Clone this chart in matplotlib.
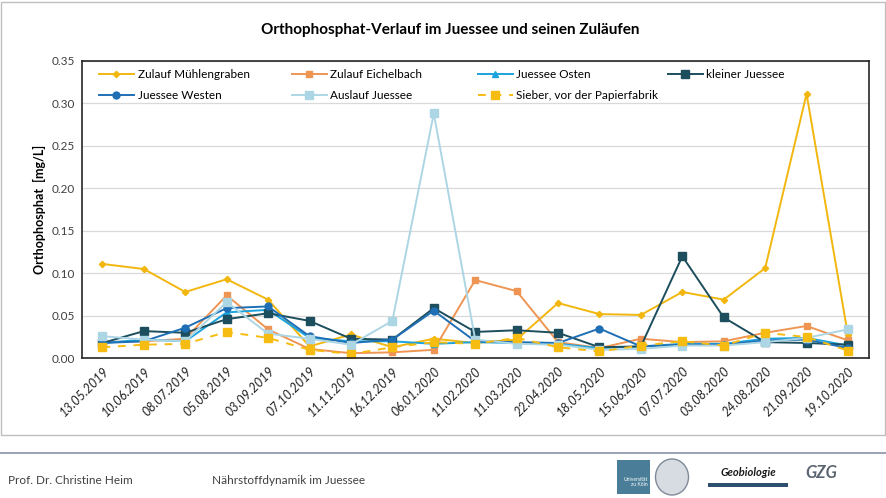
import matplotlib
matplotlib.use("Agg")
import matplotlib.pyplot as plt
from matplotlib.patches import Rectangle, Ellipse
from matplotlib.lines import Line2D
from matplotlib.legend import Legend

plt.rcParams['font.family'] = ['Lato', 'DejaVu Sans']

dates = ["13.05.2019", "10.06.2019", "08.07.2019", "05.08.2019", "03.09.2019",
         "07.10.2019", "11.11.2019", "16.12.2019", "06.01.2020", "11.02.2020",
         "11.03.2020", "22.04.2020", "18.05.2020", "15.06.2020", "07.07.2020",
         "03.08.2020", "24.08.2020", "21.09.2020", "19.10.2020"]

muehlengraben = [0.111, 0.105, 0.078, 0.093, 0.069, 0.014, 0.028, 0.013, 0.023, 0.018,
                 0.022, 0.065, 0.052, 0.051, 0.078, 0.069, 0.106, 0.311, 0.027]
eichelbach = [0.019, 0.020, 0.023, 0.074, 0.034, 0.011, 0.006, 0.007, 0.010, 0.092,
              0.079, 0.019, 0.012, 0.023, 0.019, 0.020, 0.030, 0.038, 0.021]
osten = [0.018, 0.022, 0.020, 0.054, 0.057, 0.024, 0.020, 0.020, 0.017, 0.019,
         0.018, 0.017, 0.012, 0.014, 0.017, 0.017, 0.023, 0.024, 0.015]
kleiner = [0.018, 0.032, 0.030, 0.046, 0.053, 0.044, 0.023, 0.022, 0.059, 0.031,
           0.033, 0.030, 0.013, 0.014, 0.120, 0.048, 0.019, 0.018, 0.016]
westen = [0.018, 0.020, 0.036, 0.059, 0.061, 0.026, 0.018, 0.022, 0.056, 0.020,
          0.019, 0.018, 0.035, 0.014, 0.016, 0.016, 0.021, 0.022, 0.012]
auslauf = [0.026, 0.022, 0.020, 0.066, 0.029, 0.023, 0.016, 0.044, 0.288, 0.022,
           0.017, 0.016, 0.010, 0.011, 0.015, 0.015, 0.019, 0.024, 0.034]
sieber = [0.013, 0.016, 0.017, 0.031, 0.024, 0.010, 0.005, 0.013, 0.019, 0.017,
          0.024, 0.013, 0.008, 0.015, 0.020, 0.015, 0.030, 0.025, 0.009]

series = [
    ("Zulauf Mühlengraben", muehlengraben, "#F2B70F", "D", 3.2, "-"),
    ("Zulauf Eichelbach", eichelbach, "#EE9554", "s", 5, "-"),
    ("Juessee Osten", osten, "#1BA3DE", "^", 4.5, "-"),
    ("kleiner Juessee", kleiner, "#1D4E5E", "s", 6, "-"),
    ("Juessee Westen", westen, "#1F6FB5", "o", 5, "-"),
    ("Auslauf Juessee", auslauf, "#ADD6E4", "s", 6, "-"),
    ("Sieber, vor der Papierfabrik", sieber, "#F7BC12", "s", 6, (0, (4, 4))),
]

W, H = 887, 498
fig = plt.figure(figsize=(W / 100, H / 100), dpi=100)

# outer chart border
fig.add_artist(Rectangle((1 / W, 1 - 435 / H), 884 / W, 433 / H, transform=fig.transFigure,
                         fill=False, edgecolor="#BFBFBF", linewidth=1.0))

ax = fig.add_axes([81.7 / W, 1 - 358.3 / H, 787 / W, 297.6 / H])
x = list(range(len(dates)))
handles = {}
for name, vals, col, mk, ms, ls in series:
    h, = ax.plot(x, vals, color=col, marker=mk, markersize=ms, linewidth=1.4,
                 linestyle=ls, label=name, markeredgecolor=col, markerfacecolor=col)
    handles[name] = h

ax.set_xlim(-0.5, len(dates) - 0.5)
ax.set_ylim(0, 0.35)
yt = [0, 0.05, 0.10, 0.15, 0.20, 0.25, 0.30, 0.35]
ax.set_yticks(yt)
ax.set_yticklabels([f"{v:.2f}" for v in yt], fontsize=8.5, color="#404040")
ax.set_xticks(x)
ax.set_xticklabels(dates, rotation=45, ha="right", rotation_mode="anchor",
                   fontsize=9, style="italic", color="#222222")
ax.tick_params(axis="both", length=0, pad=5)
ax.tick_params(axis="x", pad=5)
ax.grid(axis="y", color="#D9D9D9", linewidth=0.9)
ax.set_axisbelow(True)
for sp in ax.spines.values():
    sp.set_color("#262626")
    sp.set_linewidth(1.2)
ax.set_ylabel("Orthophosphat  [mg/L]", fontsize=9, fontweight="bold", labelpad=4)

# legend: four columns placed like the original
columns = [
    (["Zulauf Mühlengraben", "Juessee Westen"], 95),
    (["Zulauf Eichelbach", "Auslauf Juessee"], 288),
    (["Juessee Osten", "Sieber, vor der Papierfabrik"], 474),
    (["kleiner Juessee"], 664),
]
x0, wax = 81.7, 787.0
for names, px in columns:
    lg = Legend(ax, [handles[n] for n in names], names, loc="upper left",
                bbox_to_anchor=((px - x0) / wax, 0.985), frameon=False, fontsize=8.5,
                handlelength=3.0, labelspacing=0.85, handletextpad=0.3,
                borderaxespad=0.0, borderpad=0.3)
    ax.add_artist(lg)

fig.text(450 / W, 1 - 30 / H, "Orthophosphat-Verlauf im Juessee und seinen Zuläufen",
         ha="center", va="center", fontsize=11, fontweight="bold")

# footer
fig.add_artist(Line2D([0, 1], [1 - 453 / H] * 2, transform=fig.transFigure,
                      color="#8A94A6", linewidth=1.2))
fig.text(8 / W, 1 - 480 / H, "Prof. Dr. Christine Heim", fontsize=8.5, va="center",
         color="#404040")
fig.text(212 / W, 1 - 480 / H, "Nährstoffdynamik im Juessee", fontsize=8.5, va="center",
         color="#404040")

# logos (simple renditions)
fig.add_artist(Rectangle((617 / W, 1 - 494 / H), 33 / W, 34 / H, transform=fig.transFigure,
                         facecolor="#4A7E98", edgecolor="none"))
fig.text(648 / W, 1 - 482 / H, "Universität\nzu Köln", fontsize=3.6, color="white",
         ha="right", va="center", linespacing=1.1)
fig.add_artist(Ellipse((672 / W, 1 - 477 / H), 33 / W, 36 / H, transform=fig.transFigure,
                       facecolor="#D7DCE2", edgecolor="#7E8A98", linewidth=1.0))
fig.text(748 / W, 1 - 472 / H, "Geobiologie", fontsize=8, fontweight="bold",
         style="italic", ha="center", va="center", color="#1A1A1A")
fig.add_artist(Rectangle((708 / W, 1 - 487 / H), 80 / W, 4 / H, transform=fig.transFigure,
                         facecolor="#2F4F6F", edgecolor="none"))
fig.text(821 / W, 1 - 473 / H, "GZG", fontsize=12, fontweight="bold", style="italic",
         ha="center", va="center", color="#5A6470")

fig.savefig("out.png", dpi=100)
